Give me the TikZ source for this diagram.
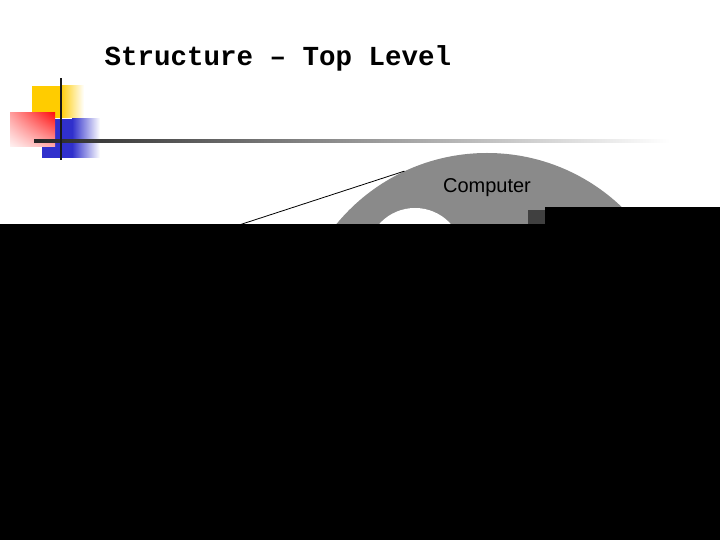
\documentclass[tikz,border=0pt]{standalone}
\usepackage{fontspec}
\usetikzlibrary{shadings}
\setmainfont{Liberation Sans}
\newfontfamily\slidetitlefont{Liberation Mono}
\definecolor{slideyellow}{HTML}{FFCC00}
\definecolor{slideblue}{HTML}{3030CC}
\definecolor{slidered}{HTML}{FF1010}

\begin{document}
\begin{tikzpicture}
  [x=1bp,y=-1bp,
   disc/.style={circle,inner sep=0pt,draw=none},
   caption/.style={font=\fontsize{20bp}{24bp}\selectfont,text=black}]
  \useasboundingbox[fill=white] (0,0) rectangle (720,540);

  % logo squares
  \fill[slideyellow] (32,86) rectangle (60,118);
  \shade[left color=slideyellow,right color=white] (60,86) rectangle (84,118);
  \fill[slideblue] (42,119) rectangle (72,158);
  \shade[left color=slideblue,right color=white] (72,119) rectangle (100,158);
  \shade[upper right=slidered,upper left=slidered!40,lower right=slidered!35,lower left=slidered!5]
    (10,113) rectangle (55,147);
  \shade[left color=black!85,right color=white] (34,139.8) rectangle (670,142.4);
  \fill[black!90] (59.8,78) rectangle (62.4,160);

  \node[anchor=base west,font=\slidetitlefont\bfseries\fontsize{27.5bp}{32bp}\selectfont]
    (title) at (101,66) {Structure – Top Level};

  % computer
  \node[disc,fill=black!46,minimum size=390bp] (computer) at (487,348) {};
  \node[disc,fill=white,minimum size=96bp] (inner) at (415,256) {};
  \node[caption] (computerlabel) at (487,188) {Computer};
  \coordinate (linestart) at (150,254);
  \draw[black,line width=0.8bp] (linestart) -- (computer.115);

  % covered part
  \fill[black] (0,224) rectangle (720,540);
  \fill[black] (545,207) rectangle (720,224);
  \fill[black!75] (528,210) rectangle (545,224);
\end{tikzpicture}
\end{document}
